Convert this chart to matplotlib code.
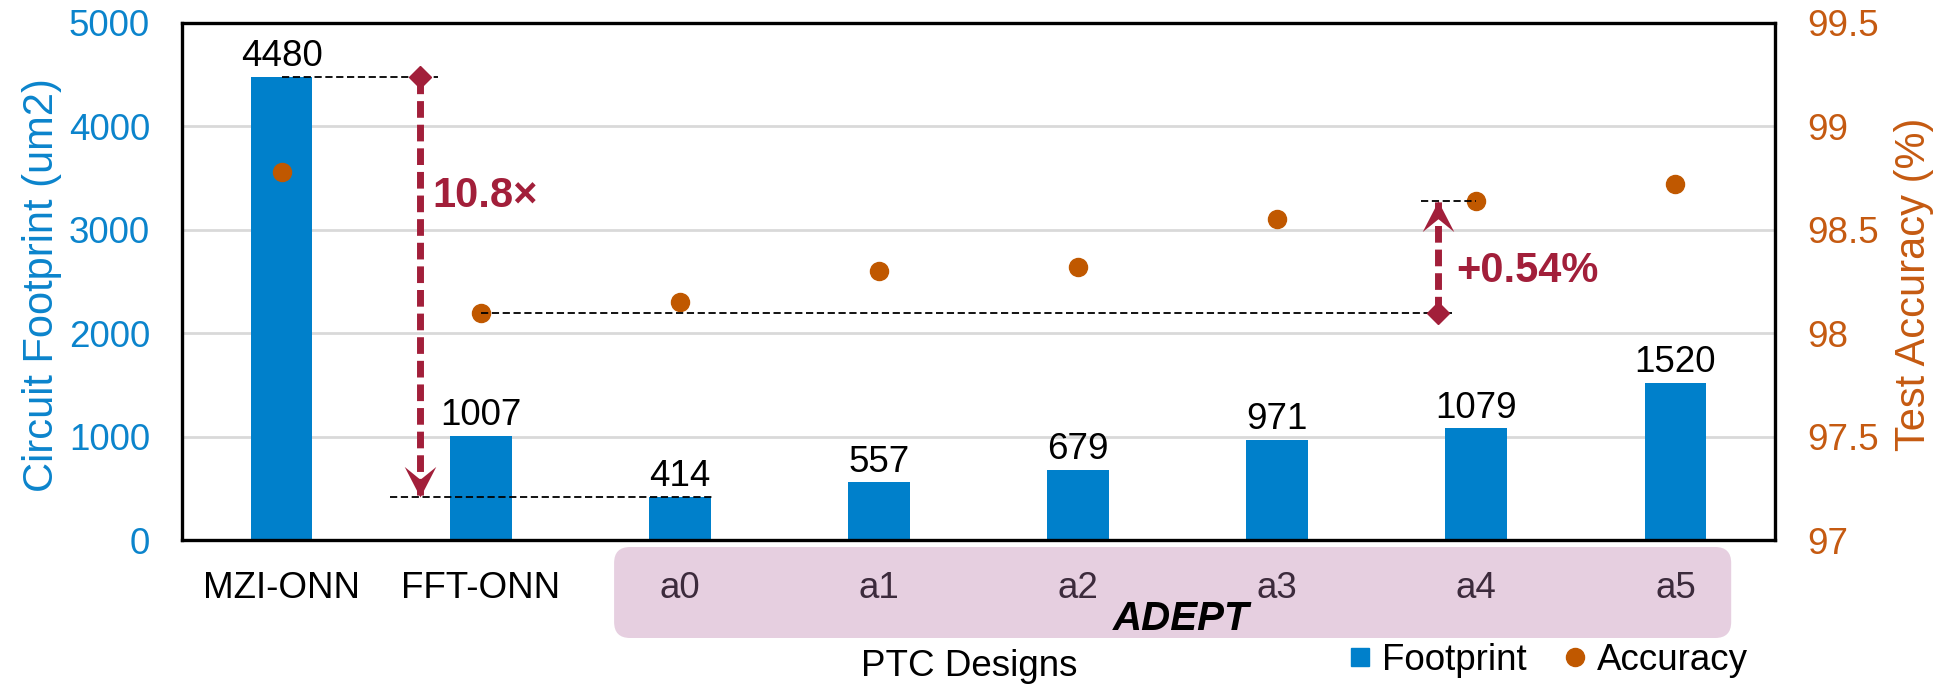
import matplotlib
matplotlib.use("Agg")
import matplotlib.pyplot as plt
from matplotlib.patches import FancyBboxPatch
from matplotlib.lines import Line2D
from matplotlib.path import Path
import numpy as np

plt.rcParams['font.family'] = ['Liberation Sans', 'DejaVu Sans']

designs = ['MZI-ONN', 'FFT-ONN', 'a0', 'a1', 'a2', 'a3', 'a4', 'a5']
footprint = [4480, 1007, 414, 557, 679, 971, 1079, 1520]
accuracy = [98.78, 98.10, 98.15, 98.30, 98.32, 98.55, 98.64, 98.72]
left_ticks = [0, 1000, 2000, 3000, 4000, 5000]
right_ticks = [97, 97.5, 98, 98.5, 99, 99.5]

BLUE = '#0080CB'
ORANGE = '#C55A11'
DOT = '#C05800'
RED = '#A21F3A'
PINK = '#E6CFE0'
FS = 26.5
LFS = 30

fig = plt.figure(figsize=(19.47, 6.86), dpi=100)
ax = fig.add_axes([182/1947, 1-540/686, 1593/1947, 517/686])
ax2 = ax.twinx()

x = np.arange(len(designs))
bars = ax.bar(x, footprint, width=0.31, color=BLUE, zorder=2)
ax.bar_label(bars, labels=[str(v) for v in footprint], padding=2, fontsize=FS)

ax.set_xlim(-0.5, len(designs) - 0.5)
ax.set_ylim(0, 5000)
ax.set_yticks(left_ticks)
ax.tick_params(axis='y', length=0, pad=23, labelsize=FS, labelcolor='#0B84CC')
ax.set_xticks(x)
ax.set_xticklabels(designs)
ax.tick_params(axis='x', length=0, pad=22, labelsize=FS)
for lbl in ax.get_xticklabels()[2:]:
    lbl.set_color('#3C2B3C')
ax.grid(axis='y', color='#D9D9D9', linewidth=2)
ax.set_axisbelow(True)
for s in ax.spines.values():
    s.set_linewidth(2.4)
ax.set_ylabel('Circuit Footprint (um2)', fontsize=LFS, color='#0B84CC')
ax.yaxis.set_label_coords(-0.0753, 0.494)

ax2.set_ylim(97, 99.5)
ax2.set_yticks(right_ticks)
ax2.set_yticklabels(['%g' % t for t in right_ticks])
ax2.tick_params(axis='y', length=0, pad=23, labelsize=FS, labelcolor=ORANGE)
for s in ax2.spines.values():
    s.set_visible(False)
ax2.set_ylabel('Test Accuracy (%)', fontsize=LFS, color=ORANGE)
ax2.yaxis.set_label_coords(1.0747, 0.494)
ax2.plot(x, accuracy, 'o', color=DOT, markersize=13, zorder=3)

# arrowhead marker with its tip at the origin, pointing down
head = Path([(0, 0), (-16, 31), (0, 18), (16, 31), (0, 0)],
            [Path.MOVETO, Path.LINETO, Path.LINETO, Path.LINETO, Path.CLOSEPOLY])
head_up = Path(head.vertices * [1, -1], head.codes)

def arrow(axis, xpos, y_from, y_to, up):
    axis.plot([xpos, xpos], [y_from, y_to], color=RED, linewidth=5,
              dashes=(2.4, 1.0), dash_capstyle='butt', zorder=5)
    axis.plot([xpos], [y_from], marker='D', color=RED, markersize=11, zorder=6)
    axis.plot([xpos], [y_to], marker=head_up if up else head, color=RED,
              markersize=44, markeredgewidth=0, zorder=6)

# footprint reduction: MZI-ONN vs a0
ax.plot([0, 0.785], [footprint[0]] * 2, color='black', linewidth=1.3, dashes=(4, 2), zorder=4)
ax.plot([0.545, 2.16], [footprint[2]] * 2, color='black', linewidth=1.3, dashes=(4, 2), zorder=4)
arrow(ax, 0.695, footprint[0], footprint[2], up=False)
ax.text(0.755, 3330, '%.1f×' % (footprint[0] / footprint[2]), color=RED,
        fontsize=30, fontweight='bold', va='center', ha='left', zorder=7)

# accuracy gain: FFT-ONN vs a4
ax2.plot([1, 5.88], [accuracy[1]] * 2, color='black', linewidth=1.3, dashes=(4, 2), zorder=4)
ax2.plot([5.72, 6], [accuracy[6]] * 2, color='black', linewidth=1.3, dashes=(4, 2), zorder=4)
arrow(ax2, 5.81, accuracy[1], accuracy[6], up=True)
ax2.text(5.9, 98.30, '+%.2f%%' % (accuracy[6] - accuracy[1]), color=RED,
         fontsize=30, fontweight='bold', va='center', ha='left', zorder=7)

# shaded group box under the ADEPT designs
fig.canvas.draw()
x0 = ax.transData.transform((1.67, 0))[0]
x1 = ax.transData.transform((7.28, 0))[0]
y1 = 686 - 547
y0 = 686 - 638
box = FancyBboxPatch((x0, y0), x1 - x0, y1 - y0,
                     boxstyle='round,pad=0,rounding_size=16',
                     facecolor=PINK, edgecolor='none', transform=None, zorder=-1)
fig.patches.append(box)
fig.text(1181/1947, 1-619/686, 'ADEPT', fontsize=29, fontweight='bold',
         fontstyle='italic', ha='center', va='center')
fig.text(969/1947, 1-667/686, 'PTC Designs', fontsize=FS, ha='center', va='center')

handles = [Line2D([], [], marker='s', linestyle='none', color=BLUE, markersize=13),
           Line2D([], [], marker='o', linestyle='none', color=DOT, markersize=13)]
fig.legend(handles, ['Footprint', 'Accuracy'], loc='center right',
           bbox_to_anchor=(1748/1947, 1-660/686), ncol=2, frameon=False,
           fontsize=FS, handlelength=0.6, handletextpad=0.3, columnspacing=1.0,
           borderpad=0, borderaxespad=0)

fig.savefig('out.png', dpi=100)
plt.close(fig)
